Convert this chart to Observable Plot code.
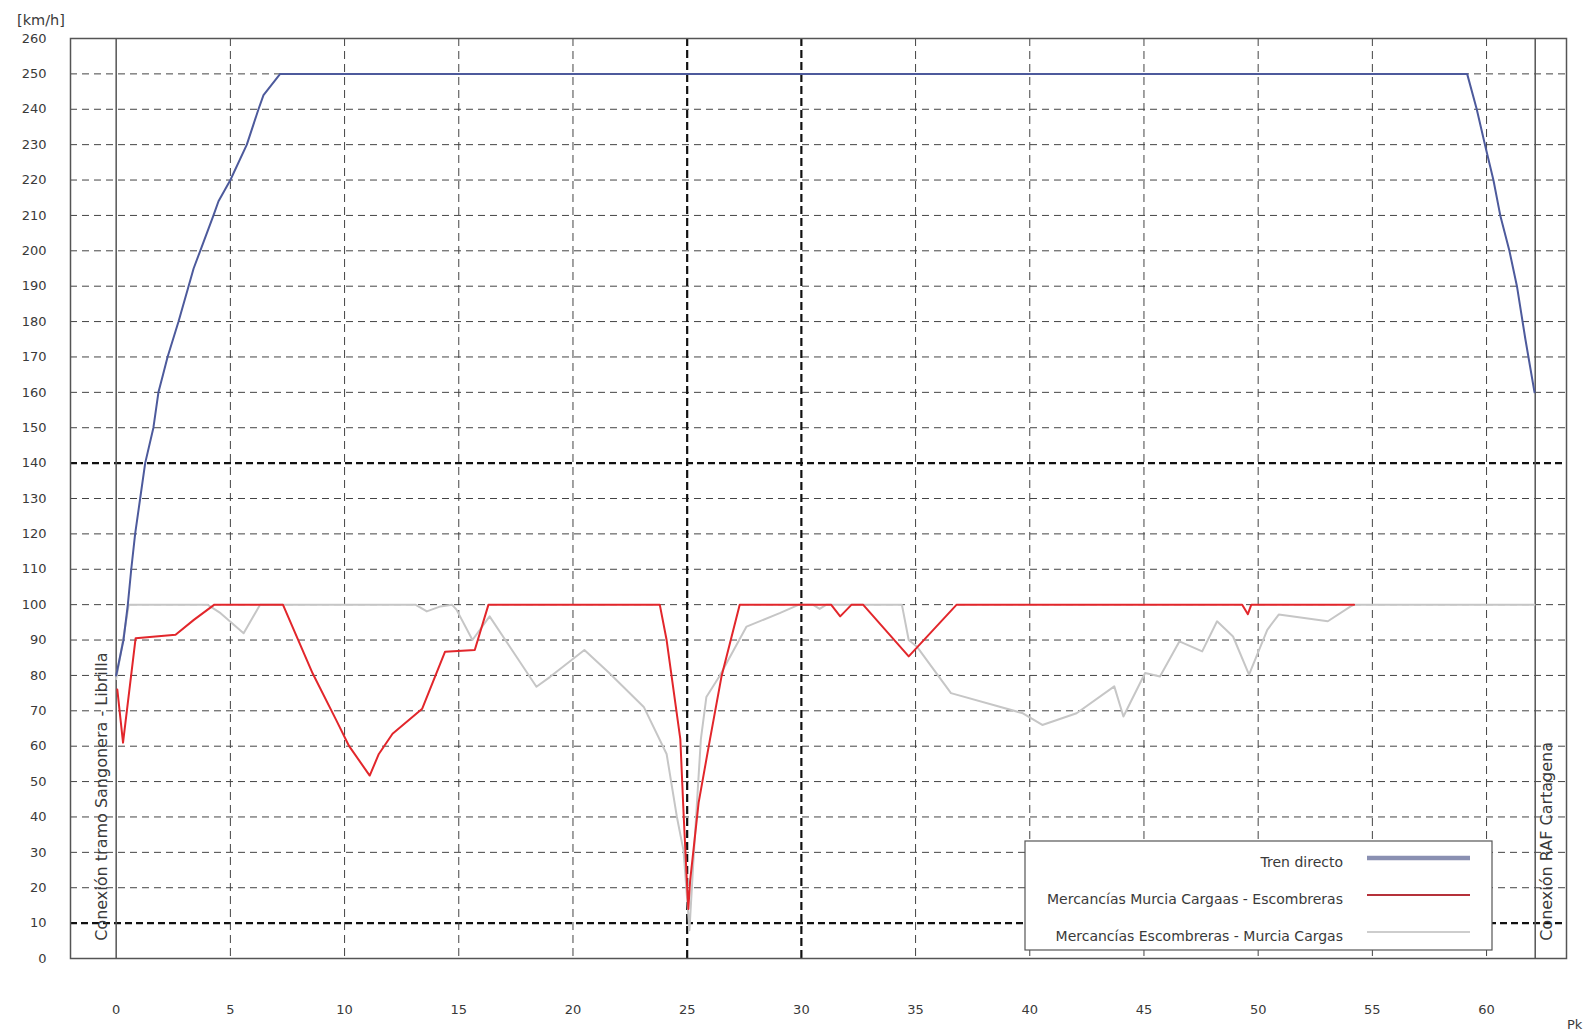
<!DOCTYPE html>
<html><head><meta charset="utf-8">
<script src="https://cdn.jsdelivr.net/npm/d3@7"></script>
<script src="https://cdn.jsdelivr.net/npm/@observablehq/plot@0.6"></script>
<style>body{margin:0;background:#fff} #chart{width:1585px;height:1034px}</style>
</head><body><div id="chart"></div>
<script>
// ---- data ----
const seriesNames = ["Tren directo", "Mercancías Murcia Cargaas - Escombreras", "Mercancías Escombreras - Murcia Cargas"];

const directoPk = [0, 0.32, 0.51, 0.66, 0.83, 1.05, 1.27, 1.63, 1.85, 2.05, 2.25, 2.73, 3.17, 3.39, 3.68, 4.26, 4.48, 5.0, 5.72, 6.23, 6.45, 7.18, 59.15, 59.57, 59.93, 60.3, 60.6, 61.0, 61.33, 61.7, 62.1];
const directoV  = [80, 90, 100, 110, 120, 130, 140, 150, 160, 165, 170, 180, 190, 195, 200, 210, 214, 220, 230, 240, 244, 250, 250, 240, 230, 220, 210, 200, 190, 175, 160];

const murciaEscPk = [0.05, 0.3, 0.85, 2.6, 3.4, 4.3, 7.3, 8.6, 9.64, 10.2, 11.1, 11.5, 12.1, 13.4, 14.4, 15.7, 16.3, 23.8, 24.1, 24.7, 24.85, 25.0, 25.05, 25.13, 25.5, 26.0, 26.5, 27.3, 31.3, 31.7, 32.2, 32.7, 34.7, 36.8, 49.3, 49.55, 49.7, 54.2];
const murciaEscV  = [76, 61, 90.5, 91.5, 95.7, 100, 100, 80.6, 67.3, 60, 51.7, 57.8, 63.5, 70.6, 86.7, 87.2, 100, 100, 90, 62, 40, 20, 14, 22, 44, 62, 79.6, 100, 100, 96.7, 100, 100, 85.4, 100, 100, 97.3, 100, 100];

const escMurciaPk = [0, 0.3, 0.55, 4.0, 4.57, 5.58, 6.3, 13.1, 13.6, 14.2, 14.7, 14.9, 15.6, 16.35, 18.4, 19.0, 20.5, 21.6, 23.1, 24.1, 24.55, 24.84, 25.1, 25.25, 25.4, 25.6, 25.84, 26.4, 27.6, 29.05, 29.9, 30.5, 30.8, 31.1, 34.4, 34.7, 35.05, 36.55, 39.7, 40.55, 42.05, 43.7, 44.1, 45.05, 45.7, 46.55, 47.55, 48.2, 48.9, 49.6, 50.4, 50.9, 53.05, 54.05, 54.2, 62.1];
const escMurciaV  = [79, 90, 100, 100, 97.6, 91.9, 100, 100, 98.1, 99.5, 100, 98.6, 90, 96.7, 76.8, 79.6, 87.2, 80.6, 71.1, 57.8, 40, 30.5, 8, 25, 41, 62, 73.9, 79.6, 93.8, 97.6, 100, 100, 98.8, 100, 100, 90, 88.2, 75, 69.3, 66, 69.3, 76.9, 68.4, 80.7, 79.7, 89.6, 86.8, 95.3, 91, 80.2, 92.9, 97.2, 95.3, 99.5, 100, 100];

const connectionPk = [0, 62.13];
const connectionLabels = ["Conexión tramo Sangonera - Librilla", "Conexión RAF Cartagena"];

const yTicks = d3.range(0, 261, 10);
const xTicks = d3.range(0, 61, 5);
const yGridThick = [10, 140];
const yGridThin = d3.range(20, 251, 10).filter(v => !yGridThick.includes(v));
const xGridThick = [25, 30];
const xGridThin = d3.range(5, 61, 5).filter(v => !xGridThick.includes(v));

const unitLabel = "[km/h]";
const pkLabel = "Pk";

// ---- build tables ----
const toRows = (pk, v) => pk.map((p, i) => ({pk: p, v: v[i]}));
const directo = toRows(directoPk, directoV);
const murciaEsc = toRows(murciaEscPk, murciaEscV);
const escMurcia = toRows(escMurciaPk, escMurciaV);
const connections = connectionPk.map((p, i) => ({pk: p, label: connectionLabels[i]}));

const colors = {directo: "#4d5a9c", murciaEsc: "#e2262b", escMurcia: "#c6c6c6"};
const font = "'DejaVu Sans', Verdana, sans-serif";

const plot = Plot.plot({
  width: 1585, height: 1034,
  marginLeft: 70, marginRight: 19, marginTop: 38, marginBottom: 76,
  style: {fontFamily: font, fontSize: "13px", color: "#3a3a3a", background: "#fff"},
  x: {domain: [-2, 63.5], ticks: xTicks, tickSize: 0, tickPadding: 46, label: null},
  y: {domain: [0, 260], ticks: yTicks, tickSize: 0, tickPadding: 24, label: null},
  marks: [
    Plot.ruleY(yGridThin, {stroke: "#444", strokeWidth: 1, strokeDasharray: "7,5"}),
    Plot.ruleY(yGridThick, {stroke: "#111", strokeWidth: 2.2, strokeDasharray: "7,4"}),
    Plot.ruleX(xGridThin, {stroke: "#444", strokeWidth: 1, strokeDasharray: "8,5"}),
    Plot.ruleX(xGridThick, {stroke: "#111", strokeWidth: 2.2, strokeDasharray: "8,4"}),
    Plot.ruleX(connections, {x: "pk", stroke: "#555", strokeWidth: 1.5}),
    Plot.line(escMurcia, {x: "pk", y: "v", stroke: colors.escMurcia, strokeWidth: 2}),
    Plot.line(murciaEsc, {x: "pk", y: "v", stroke: colors.murciaEsc, strokeWidth: 2}),
    Plot.line(directo, {x: "pk", y: "v", stroke: colors.directo, strokeWidth: 2}),
    Plot.text(connections, {x: "pk", y: 5, text: "label", rotate: -90, textAnchor: "start",
      fontSize: 16, fill: "#3a3a3a"}),
    Plot.frame({stroke: "#555", strokeWidth: 1.5})
  ]
});
document.getElementById("chart").appendChild(plot);

// shift connection labels sideways (left one to the left of its line, right one to the right)
const svg = d3.select(plot);
svg.selectAll("text").filter(function(){ return connectionLabels.includes(this.textContent); })
  .each(function(){
    const t = d3.select(this);
    const left = this.textContent === connectionLabels[0];
    const tr = t.attr("transform") || "";
    t.attr("transform", tr.replace(/translate\(([-\d.]+),([-\d.]+)\)/, (m, a, b) => `translate(${+a + (left ? -14 : 12)},${b})`));
  });

// unit and Pk labels
svg.append("text").attr("x", 17).attr("y", 25).attr("text-anchor", "start").attr("font-family", font)
  .attr("font-size", 14.5).attr("fill", "#3a3a3a").text(unitLabel);
svg.append("text").attr("x", 1567).attr("y", 1029).attr("text-anchor", "start").attr("font-family", font)
  .attr("font-size", 13).attr("fill", "#3a3a3a").text(pkLabel);

// legend
const lg = svg.append("g");
lg.append("rect").attr("x", 1025).attr("y", 841).attr("width", 467).attr("height", 109)
  .attr("fill", "#fff").attr("stroke", "#555").attr("stroke-width", 1.2);
const legendStyle = [
  {color: "#8a90b2", width: 4.5},
  {color: "#b5313a", width: 2.2},
  {color: "#bdbdbd", width: 1.5}
];
const rowY = [860, 897, 934];
seriesNames.forEach((name, i) => {
  lg.append("text").attr("x", 1343).attr("y", rowY[i] + 2).attr("dy", "0.35em").attr("text-anchor", "end")
    .attr("font-family", font).attr("font-size", 14).attr("fill", "#3a3a3a").text(name);
  lg.append("line").attr("x1", 1367).attr("x2", 1470).attr("y1", rowY[i] - 2).attr("y2", rowY[i] - 2)
    .attr("stroke", legendStyle[i].color).attr("stroke-width", legendStyle[i].width);
});
</script>
</body></html>
